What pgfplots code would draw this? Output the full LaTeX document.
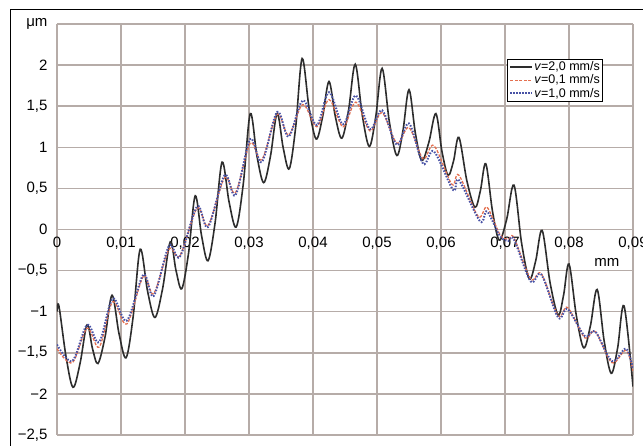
\documentclass[border=0pt]{standalone}
\usepackage{pgfplots}
\pgfplotsset{compat=1.18}
\usepackage{fontspec}
\setmainfont{Liberation Sans}
\definecolor{gridc}{RGB}{182,172,168}
\definecolor{blk}{RGB}{45,45,45}
\definecolor{orn}{RGB}{228,112,80}
\definecolor{blu}{RGB}{72,82,165}
\begin{document}
\begin{tikzpicture}[x=1pt,y=1pt]
\begin{axis}[
  at={(0,0)}, anchor=south west,
  scale only axis, width=576pt, height=411pt,
  xmin=0, xmax=0.09, ymin=-2.5, ymax=2.5,
  axis lines=middle,
  axis line style={draw=none},
  hide obscured x ticks=false, hide obscured y ticks=false,
  scaled x ticks=false, scaled y ticks=false,
  xtick={0,0.01,0.02,0.03,0.04,0.05,0.06,0.07,0.08,0.09},
  xticklabels={{0},{0,01},{0,02},{0,03},{0,04},{0,05},{0,06},{0,07},{0,08},{0,09}},
  ytick={-2.5,-2,-1.5,-1,-0.5,0,0.5,1,1.5,2,2.5},
  yticklabels={{−2,5},{−2},{−1,5},{−1},{−0,5},{0},{0,5},{1},{1,5},{2},{μm}},
  major tick length=0pt,
  grid=major,
  major grid style={draw=gridc, line width=1.5pt},
  tick label style={font=\fontsize{15}{18}\selectfont},
  xticklabel style={anchor=north, yshift=-4pt},
  yticklabel style={anchor=east, xshift=-6pt},
  clip=true,
  legend cell align=left,
  legend style={at={(rel axis cs:0.781,0.915)}, anchor=north west,
    draw=black, line width=0.9pt, fill=white,
    font=\fontsize{12.5}{14}\selectfont,
    inner xsep=2pt, inner ysep=1.5pt, row sep=0.5pt,
    nodes={inner sep=1pt}},
  legend image code/.code={\draw[#1] (0pt,0pt) -- (22pt,0pt);},
]
\addplot[blk, line width=1.6pt, smooth, tension=0.55] coordinates {
(0,-1.00) (0.0003,-0.93) (0.0014,-1.54) (0.0025,-1.92) (0.0036,-1.63)
(0.0047,-1.16) (0.00555,-1.45) (0.0064,-1.63) (0.0075,-1.31)
(0.0086,-0.80) (0.0097,-1.27) (0.0108,-1.56) (0.0119,-1.06)
(0.0130,-0.24) (0.01415,-0.75) (0.0153,-1.07) (0.0165,-0.72)
(0.0177,-0.15) (0.0186,-0.50) (0.0195,-0.72) (0.02055,-0.29)
(0.0216,0.41) (0.0226,-0.08) (0.0236,-0.38) (0.0247,0.08)
(0.0258,0.82) (0.0269,0.33) (0.0280,0.03) (0.0291,0.55)
(0.0302,1.41) (0.03125,0.89) (0.0323,0.57) (0.03335,0.89)
(0.0344,1.41) (0.03535,0.99) (0.0363,0.74) (0.0373,1.25)
(0.0383,2.08) (0.0394,1.47) (0.0405,1.10) (0.0415,1.37)
(0.0425,1.80) (0.0435,1.37) (0.0445,1.11) (0.04555,1.45)
(0.0466,2.01) (0.0477,1.39) (0.0488,1.01) (0.0498,1.37)
(0.0508,1.96) (0.05195,1.30) (0.0531,0.90) (0.05405,1.20)
(0.0550,1.70) (0.0560,1.17) (0.0570,0.84) (0.0581,1.06)
(0.0592,1.41) (0.06015,0.95) (0.0611,0.66) (0.06195,0.83)
(0.0628,1.12) (0.06405,0.59) (0.0653,0.27) (0.06615,0.47)
(0.0670,0.80) (0.06805,0.22) (0.0691,-0.13) (0.07025,0.12)
(0.0714,0.54) (0.0726,-0.17) (0.0738,-0.60) (0.0748,-0.38)
(0.0758,-0.01) (0.07705,-0.65) (0.0783,-1.04) (0.07915,-0.80)
(0.0800,-0.42) (0.08115,-1.05) (0.0823,-1.44) (0.08335,-1.17)
(0.0844,-0.73) (0.0855,-1.36) (0.0866,-1.75) (0.0876,-1.44)
(0.0886,-0.93) (0.0900,-1.91)
};
\addlegendentry{\textit{v}=2,0 mm/s}
\addplot[orn, line width=1.3pt, dash pattern=on 3pt off 1.5pt, smooth, tension=0.55] coordinates {
(0,-1.45) (0.0024,-1.62) (0.0047,-1.20) (0.0066,-1.43) (0.0087,-0.88)
(0.0109,-1.15) (0.0135,-0.57) (0.0151,-0.78) (0.0175,-0.24) (0.0192,-0.32)
(0.0219,0.26) (0.0236,0.05) (0.0262,0.63) (0.0279,0.45) (0.0302,1.05)
(0.0320,0.85) (0.0344,1.40) (0.0362,1.15) (0.0384,1.52) (0.0406,1.25)
(0.0425,1.58) (0.0447,1.25) (0.0467,1.55) (0.0489,1.20) (0.0508,1.42)
(0.0531,1.05) (0.0550,1.24) (0.0572,0.86) (0.0589,1.02) (0.0617,0.55)
(0.0628,0.66) (0.0658,0.16) (0.0672,0.27) (0.0692,-0.06) (0.0705,-0.12)
(0.0714,-0.10) (0.0740,-0.60) (0.0757,-0.54) (0.0783,-1.05) (0.0798,-0.95)
(0.0825,-1.32) (0.0841,-1.24) (0.0867,-1.62) (0.0889,-1.47) (0.0900,-1.72)
};
\addlegendentry{\textit{v}=0,1 mm/s}
\addplot[blu, line width=2pt, dash pattern=on 1.5pt off 1.5pt, smooth, tension=0.55] coordinates {
(0,-1.40) (0.0024,-1.60) (0.0047,-1.16) (0.0066,-1.37) (0.0087,-0.84)
(0.0109,-1.11) (0.0135,-0.55) (0.0151,-0.81) (0.0175,-0.20) (0.0192,-0.33)
(0.0219,0.28) (0.0236,0.03) (0.0262,0.66) (0.0279,0.42) (0.0302,1.10)
(0.0320,0.82) (0.0344,1.43) (0.0362,1.13) (0.0384,1.57) (0.0406,1.27)
(0.0425,1.67) (0.0447,1.28) (0.0467,1.63) (0.0489,1.22) (0.0508,1.45)
(0.0531,1.03) (0.0550,1.29) (0.0572,0.80) (0.0589,0.95) (0.0619,0.48)
(0.0628,0.60) (0.0661,0.10) (0.0672,0.22) (0.0692,-0.08) (0.0705,-0.14)
(0.0714,-0.12) (0.0740,-0.63) (0.0757,-0.55) (0.0783,-1.07) (0.0798,-0.97)
(0.0825,-1.30) (0.0841,-1.24) (0.0867,-1.60) (0.0889,-1.45) (0.0900,-1.70)
};
\addlegendentry{\textit{v}=1,0 mm/s}
\node[font=\fontsize{15}{18}\selectfont] at (axis cs:0.0859,-0.40) {mm};
\end{axis}
\draw[black, line width=1pt] (-46,-30) rectangle (620,425);
\pgfresetboundingbox
\path[use as bounding box] (-57,-11) rectangle (586,435);
\end{tikzpicture}
\end{document}
